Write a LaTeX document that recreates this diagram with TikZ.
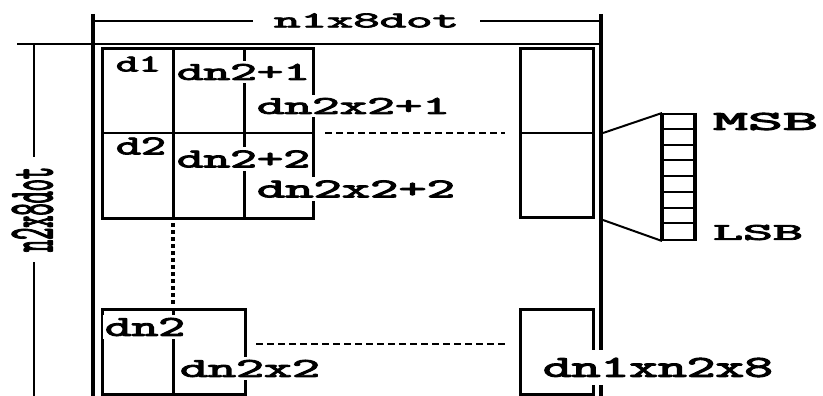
\documentclass[tikz,border=0pt]{standalone}
\usepackage{graphicx}
\usepackage{fontspec}
\newfontfamily\pix{Latin Modern Mono}[FakeBold=3]
\newcommand\lbl[3]{\resizebox{#1pt}{#2pt}{\pix #3}}
\tikzset{
  lab/.style={fill=white, inner xsep=2pt, inner ysep=3pt, outer sep=0pt},
  boxline/.style={line width=3pt},
  thinline/.style={line width=2pt},
  mainline/.style={line width=4pt},
  dashline/.style={line width=2pt, dash pattern=on 7pt off 4pt},
  dotline/.style={line width=4pt, dash pattern=on 4pt off 3pt}
}
\begin{document}
\begin{tikzpicture}[x=1pt,y=-1pt]
\useasboundingbox (0,0) rectangle (823,396);
% frame and dimension lines
\coordinate (vl1) at (93,14);  \coordinate (vl2) at (93,396);
\coordinate (vr1) at (601,14); \coordinate (vr2) at (601,396);
\draw[mainline] (vl1) -- (vl2);
\draw[mainline] (vr1) -- (vr2);
\coordinate (dt1) at (95,21); \coordinate (dt2) at (600,21);
\draw[thinline] (dt1) -- (dt2);
\coordinate (h1) at (17,44); \coordinate (h2) at (600,44);
\draw[thinline] (h1) -- (h2);
\coordinate (dl1) at (34,44); \coordinate (dl2) at (34,396);
\draw[thinline] (dl1) -- (dl2);
% top-left block
\draw[boxline] (102,49) rectangle (313,218);
\draw[boxline] (173,49) -- (173,218);
\draw[boxline] (244,49) -- (244,218);
% top-right block
\draw[boxline] (520,49) rectangle (593,217);
\draw[thinline] (520,133) -- (593,133);
\draw[dashline] (325,133) -- (505,133);
% dotted vertical
\draw[dotline] (173,223) -- (173,306);
% bottom-left block
\draw[boxline] (102,309) rectangle (245,394);
\draw[boxline] (173,309) -- (173,394);
% bottom-right block
\draw[boxline] (520,309) rectangle (593,394);
\draw[dashline] (256,344) -- (507,344);
% bit stack
\node[draw, line width=2pt, minimum width=31pt, minimum height=126pt, inner sep=0pt, anchor=north west] (stack) at (662,113) {};
\foreach \i in {1,...,7} \draw[thinline] (662,113+15.75*\i) -- (693,113+15.75*\i);
\draw[line width=4pt] (stack.north west) -- (stack.south west);
\draw[line width=4pt] (stack.north east) -- (stack.south east);
\coordinate (ms) at (603,133); \coordinate (ls) at (603,220);
\draw[thinline] (ms) -- (stack.north west);
\draw[thinline] (ls) -- (stack.south west);
% labels
\node[lab, inner xsep=21pt] (n1) at (366.5,20.5) {\lbl{185}{14}{n1x8dot}};
\node[lab, rotate=90, inner xsep=10pt, inner ysep=1pt] (n2) at (32.5,209.5) {\lbl{85}{40}{n2x8dot}};
\node[lab] (d1) at (138.5,64) {\lbl{45}{15}{d1}};
\node[lab] (dn21) at (243.5,72) {\lbl{133}{16}{dn2+1}};
\node[lab] (dn2x21) at (353.5,106) {\lbl{193}{16}{dn2x2+1}};
\node[lab] (d2) at (141,146) {\lbl{50}{17}{d2}};
\node[lab] (dn22) at (243.5,159) {\lbl{133}{17}{dn2+2}};
\node[lab] (dn2x22) at (356,189) {\lbl{198}{17}{dn2x2+2}};
\node[lab] (dn2) at (145,327) {\lbl{80}{18}{dn2}};
\node[lab] (dn2x2) at (250,368.5) {\lbl{140}{17}{dn2x2}};
\node[lab, inner ysep=8pt] (last) at (658,367.5) {\lbl{230}{19}{dn1xn2x8}};
\node[lab] (msb) at (765.5,121.5) {\lbl{105}{17}{MSB}};
\node[lab] (lsb) at (758,232.5) {\lbl{90}{15}{LSB}};
% middle line of the top-left block drawn over the labels' backgrounds
\draw[thinline] (102,133) -- (313,133);
\end{tikzpicture}
\end{document}
